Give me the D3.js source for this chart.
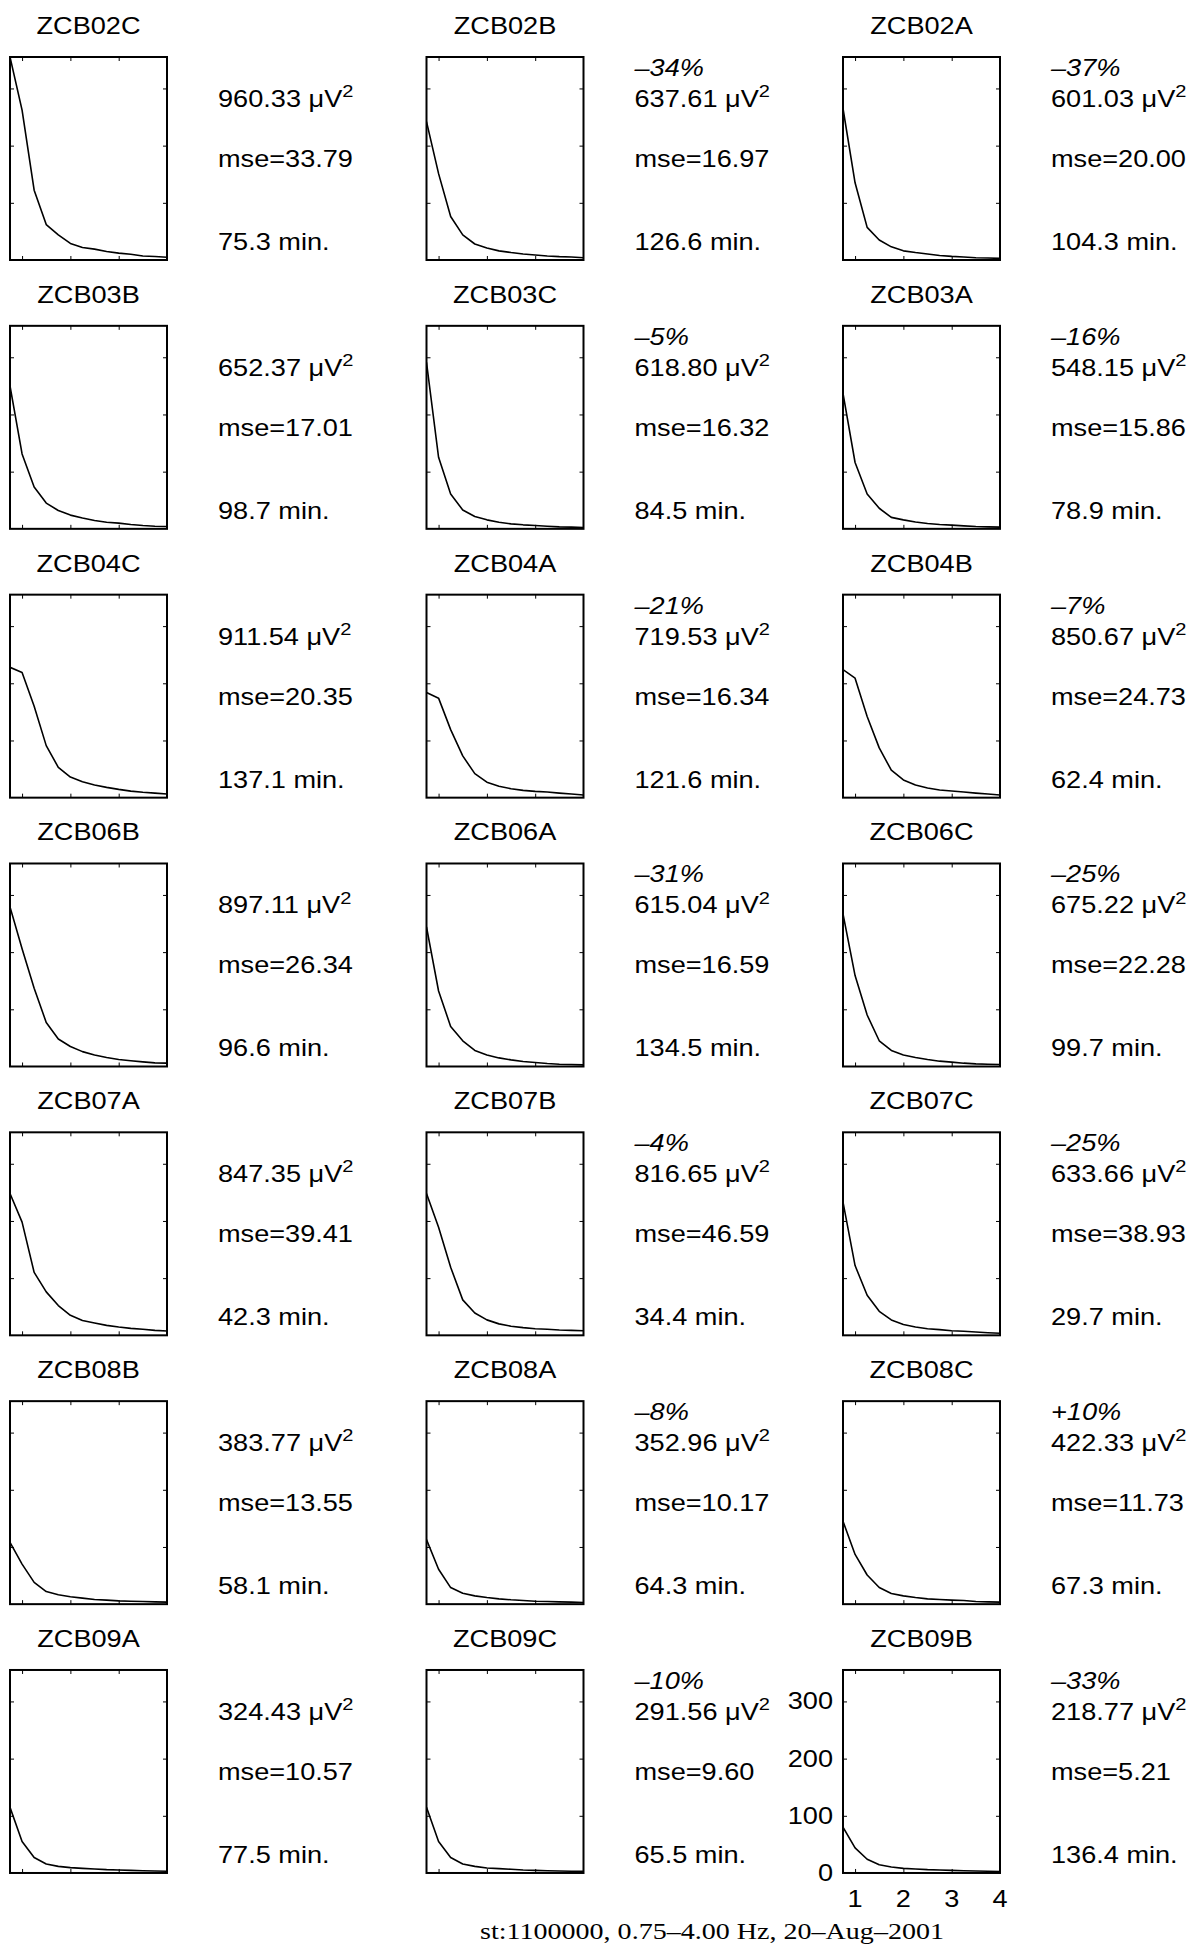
<!DOCTYPE html>
<html>
<head>
<meta charset="utf-8">
<script src="https://cdn.jsdelivr.net/npm/d3@7"></script>
<style>
  html, body { margin: 0; padding: 0; background: #fff; }
  svg { display: block; }
  text { font-family: "Liberation Sans", Arial, Helvetica, sans-serif; fill: #000; }
  .cap { font-family: "Liberation Serif", "Times New Roman", serif; }
</style>
</head>
<body>
<svg id="chart" width="1200" height="1946"></svg>
<script>
// ---------------- DATA ----------------
const names = ["ZCB02C","ZCB02B","ZCB02A","ZCB03B","ZCB03C","ZCB03A","ZCB04C","ZCB04A","ZCB04B",
               "ZCB06B","ZCB06A","ZCB06C","ZCB07A","ZCB07B","ZCB07C","ZCB08B","ZCB08A","ZCB08C",
               "ZCB09A","ZCB09C","ZCB09B"];
const pcts = ["","–34%","–37%","","–5%","–16%","","–21%","–7%",
              "","–31%","–25%","","–4%","–25%","","–8%","+10%",
              "","–10%","–33%"];
const powers = ["960.33","637.61","601.03","652.37","618.80","548.15","911.54","719.53","850.67",
                "897.11","615.04","675.22","847.35","816.65","633.66","383.77","352.96","422.33",
                "324.43","291.56","218.77"];
const mses = ["33.79","16.97","20.00","17.01","16.32","15.86","20.35","16.34","24.73",
              "26.34","16.59","22.28","39.41","46.59","38.93","13.55","10.17","11.73",
              "10.57","9.60","5.21"];
const minutes = ["75.3","126.6","104.3","98.7","84.5","78.9","137.1","121.6","62.4",
                 "96.6","134.5","99.7","42.3","34.4","29.7","58.1","64.3","67.3",
                 "77.5","65.5","136.4"];

const freqs = [0.75,1.00,1.25,1.50,1.75,2.00,2.25,2.50,2.75,3.00,3.25,3.50,3.75,4.00];

const sZCB02C = [355,262,122,62,44,29,22,19,15,12,10,7,6,4.7];
const sZCB02B = [242,151,76,44,28,21,16,13,10.5,8.8,7,5.9,5.3,4];
const sZCB02A = [265,135,57,35,23,16,13,10.5,8,6.4,5.3,4,3.5,2.9];
const sZCB03B = [250,131,73,45,32,24,19,14.5,11.6,10,7.5,5.8,4.6,4];
const sZCB03C = [291,125,61,33,21.5,15.7,11.6,8.7,7,5.8,4.6,3.5,2.9,2.3];
const sZCB03A = [237,116,61,36,20,15.7,12,9.3,7.6,6.4,5.2,4,3.5,2.9];
const sZCB04C = [228,219,160,91,53,36,28,22,18,14.5,11.5,9.5,8,6.5];
const sZCB04A = [184,174,119,73,42,27,20,15.7,12.8,11,9.9,8,6.4,4.6];
const sZCB04B = [224,209,142,87,48,31,22,17,13.4,11.6,9.9,8,6.4,4.6];
const sZCB06B = [279,206,137,77,48,35,26,20,15.7,12.2,9.9,8,6.4,5.8];
const sZCB06A = [244,132,70,45,28,20,15,11.6,8.7,7,5.2,4,3.5,2.9];
const sZCB06C = [267,159,90,45,28,20,15.7,12.2,9.3,7.6,5.8,4.6,4,3.5];
const sZCB07A = [248,198,110,76,52,35,26,21.5,17.4,14.5,12.2,10.5,8.7,7.6];
const sZCB07B = [248,189,119,62,39,27,20,16,13.4,11.6,10.5,9.3,8.7,8];
const sZCB07C = [233,122,70,42,27,19,14.5,11.6,9.9,8,7,5.8,4.6,3.5];
const sZCB08B = [108,70,38,22,16.5,13,10.5,8,7,5.8,5.2,4.6,4,3.5];
const sZCB08A = [113,61,29,19,14.5,11.6,9.3,7.6,6.4,5.2,4.6,4,3.5,2.9];
const sZCB08C = [145,87,51,29,18.6,14.5,11.6,9.3,8,7,6.4,4.6,4,3.5];
const sZCB09A = [115,55,27,15.7,11.6,9.3,8,7,5.8,5.2,4.6,4,3.5,2.9];
const sZCB09C = [115,55,27,15.7,11.6,8.7,7.6,6.4,5.2,4.6,4,3.5,2.9,2.9];
const sZCB09B = [80,44,24,14.5,10.5,8,7,5.8,5.2,4.6,4,3.5,2.9,2.3];

const spectra = [sZCB02C,sZCB02B,sZCB02A,sZCB03B,sZCB03C,sZCB03A,sZCB04C,sZCB04A,sZCB04B,
                 sZCB06B,sZCB06A,sZCB06C,sZCB07A,sZCB07B,sZCB07C,sZCB08B,sZCB08A,sZCB08C,
                 sZCB09A,sZCB09C,sZCB09B];

const yTicks = [0,100,200,300];
const xTicks = [1,2,3,4];
const caption = "st:1100000, 0.75–4.00 Hz, 20–Aug–2001";

// ---------------- LAYOUT ----------------
const SX = 1.18;            // horizontal stretch of the reference's text
const boxW = 157, boxH = 203;
const colX = [10, 426.5, 843];
const rowY0 = 57, rowStep = 268.83;
const fs = 23;

const svg = d3.select("#chart");
const x = d3.scaleLinear().domain([0.75, 4]).range([0, boxW]);
const y = d3.scaleLinear().domain([0, 355]).range([boxH, 0]);
const line = d3.line().x((d, i) => x(freqs[i])).y(d => y(d));

function stretchedText(g, tx, ty, anchor) {
  return g.append("text")
    .attr("transform", `translate(${tx},${ty}) scale(${SX},1)`)
    .attr("text-anchor", anchor || "start")
    .attr("font-size", fs);
}

svg.append("defs").append("clipPath").attr("id", "boxclip")
  .append("rect").attr("x", 0).attr("y", 0).attr("width", boxW).attr("height", boxH);

names.forEach((name, i) => {
  const r = Math.floor(i / 3), c = i % 3;
  const g = svg.append("g").attr("transform", `translate(${colX[c]},${rowY0 + r * rowStep})`);

  // title
  stretchedText(g, boxW / 2, -23, "middle").text(name);

  // curve
  g.append("path")
    .datum(spectra[i])
    .attr("clip-path", "url(#boxclip)")
    .attr("fill", "none")
    .attr("stroke", "#000")
    .attr("stroke-width", 1.6)
    .attr("stroke-linejoin", "round")
    .attr("d", line);

  // inward ticks on all four sides
  const tk = 4;
  g.append("g").attr("transform", `translate(0,${boxH})`)
    .call(d3.axisBottom(x).tickValues(xTicks.slice(0, 3)).tickSize(-tk).tickFormat(""));
  g.append("g")
    .call(d3.axisTop(x).tickValues(xTicks.slice(0, 3)).tickSize(-tk).tickFormat(""));
  g.append("g")
    .call(d3.axisLeft(y).tickValues(yTicks.slice(1)).tickSize(-tk).tickFormat(""));
  g.append("g").attr("transform", `translate(${boxW},0)`)
    .call(d3.axisRight(y).tickValues(yTicks.slice(1)).tickSize(-tk).tickFormat(""));
  g.selectAll(".domain").remove();
  g.selectAll(".tick line").attr("stroke", "#000").attr("stroke-width", 1);

  // frame
  g.append("rect")
    .attr("x", 0).attr("y", 0).attr("width", boxW).attr("height", boxH)
    .attr("fill", "none").attr("stroke", "#000").attr("stroke-width", 2);

  // side texts
  const tx = 208;
  if (pcts[i]) {
    stretchedText(g, tx, 19).attr("font-style", "italic").text(pcts[i]);
  }
  const p = stretchedText(g, tx, 50);
  p.append("tspan").text(powers[i] + " \u03BCV");
  p.append("tspan").attr("dy", -10).attr("font-size", 17).text("2");
  stretchedText(g, tx, 110).text("mse=" + mses[i]);
  stretchedText(g, tx, 193).text(minutes[i] + " min.");

  // tick labels on the last panel only
  if (i === names.length - 1) {
    yTicks.forEach(v => {
      stretchedText(g, -10, y(v) + 8, "end").text(v);
    });
    xTicks.forEach(v => {
      stretchedText(g, x(v), boxH + 34, "middle").text(v);
    });
  }
});

// caption
svg.append("text")
  .attr("class", "cap")
  .attr("transform", `translate(712,1939) scale(1.22,1)`)
  .attr("text-anchor", "middle")
  .attr("font-size", 23)
  .text(caption);
</script>
</body>
</html>
